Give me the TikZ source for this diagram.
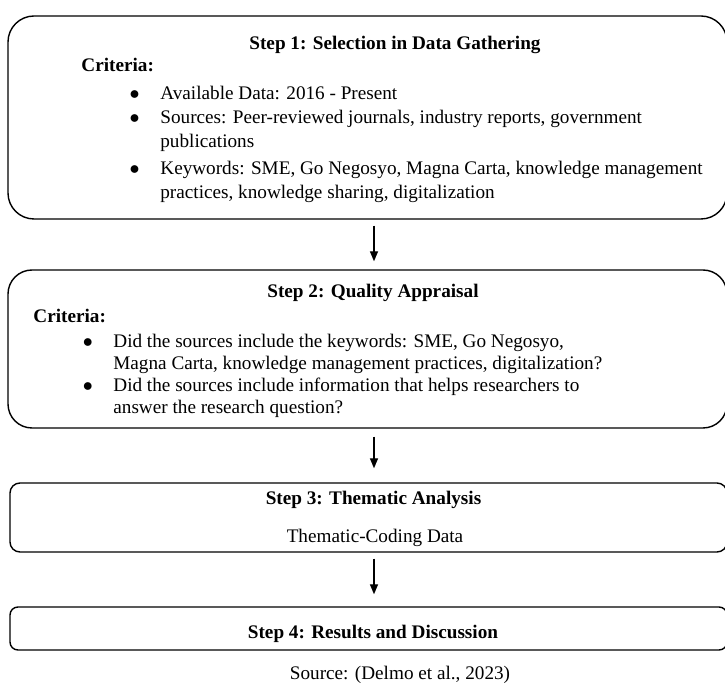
\documentclass[tikz,border=0pt]{standalone}
\usepackage{fontspec}
\setmainfont{Liberation Serif}
\usetikzlibrary{arrows.meta}

\begin{document}
\begin{tikzpicture}[
  x=0.5pt, y=-0.5pt,
  font=\fontsize{9.6}{11.75}\selectfont,
  stepbox/.style={draw=black, line width=0.7pt, minimum width=359.5pt, inner sep=0pt},
  title/.style={anchor=base, inner sep=0pt},
  txt/.style={anchor=base west, align=left, inner sep=0pt},
  dot/.style={anchor=base, inner sep=0pt},
  arrow/.style={-{Triangle[length=5pt,width=4pt]}, line width=0.7pt}
]
\useasboundingbox (0,0) rectangle (725,684);
\clip (0,0) rectangle (725,684);

% the four step boxes
\node[stepbox, rounded corners=13pt, minimum height=101.5pt] (step1) at (367.5,117.5) {};
\node[stepbox, rounded corners=12pt, minimum height=79pt] (step2) at (367.5,349) {};
\node[stepbox, rounded corners=5pt, minimum width=358.5pt, minimum height=34.5pt] (step3) at (368.5,517.5) {};
\node[stepbox, rounded corners=4pt, minimum width=358.5pt, minimum height=21.5pt] (step4) at (368.5,628.5) {};

% step 1 (two-line items sit on their last baseline)
\node[title] (t1) at (395,50) {\textbf{Step 1: Selection in Data Gathering}};
\node[txt] (c1) at (81,72) {\textbf{Criteria:}};
\node[dot] (d1) at (134.5,100) {$\bullet$};
\node[txt] (i1) at (160,100) {Available Data: 2016 - Present};
\node[dot] (d2) at (134.5,124) {$\bullet$};
\node[txt] (i2) at (160,147.5) {Sources: Peer-reviewed journals, industry reports, government\\publications};
\node[dot] (d3) at (134.5,175) {$\bullet$};
\node[txt] (i3) at (160,198.5) {Keywords: SME, Go Negosyo, Magna Carta, knowledge management\\practices, knowledge sharing, digitalization};

% step 2
\node[title] (t2) at (373,298) {\textbf{Step 2: Quality Appraisal}};
\node[txt] (c2) at (33,323) {\textbf{Criteria:}};
\node[dot] (d4) at (88,348) {$\bullet$};
\node[txt, font=\fontsize{9.6}{11}\selectfont] (i4) at (113,370) {Did the sources include the keywords: SME, Go Negosyo,\\Magna Carta, knowledge management practices, digitalization?};
\node[dot] (d5) at (88,392) {$\bullet$};
\node[txt, font=\fontsize{9.6}{11}\selectfont] (i5) at (113,414) {Did the sources include information that helps researchers to\\answer the research question?};

% step 3 and 4
\node[title] (t3) at (373.5,505) {\textbf{Step 3: Thematic Analysis}};
\node[title] (t3b) at (375,543) {Thematic-Coding Data};
\node[title] (t4) at (373,639) {\textbf{Step 4: Results and Discussion}};

\node[title] (src) at (400,680) {Source: (Delmo et al., 2023)};

% arrows
\draw[arrow] ([xshift=3.25pt,yshift=-3pt]step1.south) -- ([xshift=3.25pt,yshift=4pt]step2.north);
\draw[arrow] ([xshift=3.25pt,yshift=-4pt]step2.south) -- ([xshift=2.75pt,yshift=7pt]step3.north);
\draw[arrow] ([xshift=2.75pt,yshift=-3pt]step3.south) -- ([xshift=2.75pt,yshift=6pt]step4.north);

\end{tikzpicture}
\end{document}
